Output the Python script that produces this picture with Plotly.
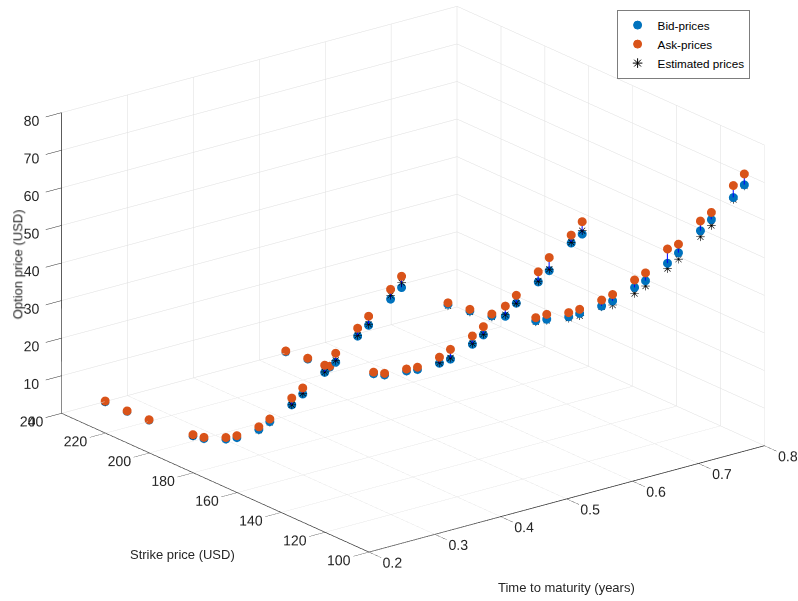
import math
import plotly.graph_objects as go

# Strike prices (USD), same grid for every maturity
strikes = [240, 230, 220, 200, 195, 185, 180, 170, 165, 155, 150, 140, 135, 125, 120, 110, 105]

# Times to maturity (years)
maturities = [0.266, 0.540, 0.786]

# Quotes and model estimates per maturity (USD)
ask_t1 = [0.2, 0.2, 0.5, 1.8, 2.4, 5.0, 6.8, 11.8, 15.2, 23.4, 27.4, 36.1, 40.6, 49.9, 54.4, 64.2, 69.0]
bid_t1 = [0.0, 0.1, 0.4, 1.5, 2.1, 4.6, 6.3, 11.1, 14.5, 21.6, 25.8, 34.2, 38.2, 47.8, 52.0, 61.6, 66.0]
est_t1 = [0.0, 0.1, 0.4, 1.5, 2.0, 4.5, 6.2, 10.9, 14.3, 21.6, 26.0, 34.3, 38.7, 48.0, 52.3, 62.6, 67.3]

ask_t2 = [0.6, 1.3, 1.8, 5.5, 6.5, 10.3, 12.1, 17.4, 20.8, 27.0, 30.8, 38.9, 43.1, 52.0, 57.1, 65.7, 70.6]
bid_t2 = [0.4, 1.1, 1.6, 5.1, 6.1, 9.8, 11.5, 15.8, 18.2, 24.8, 28.6, 36.2, 41.0, 49.3, 53.6, 63.6, 67.3]
est_t2 = [0.3, 1.0, 1.5, 5.0, 6.0, 9.7, 11.4, 15.9, 18.5, 25.0, 28.8, 36.6, 41.0, 49.5, 54.0, 63.8, 68.2]

ask_t3 = [1.8, 2.7, 4.1, 8.4, 10.6, 13.7, 15.9, 21.0, 23.8, 30.3, 33.5, 42.5, 45.1, 53.9, 57.5, 67.3, 71.7]
bid_t3 = [1.4, 2.3, 3.6, 7.6, 9.3, 12.6, 14.8, 19.4, 22.1, 28.3, 31.4, 38.7, 42.8, 51.3, 55.6, 64.1, 68.8]
est_t3 = [1.0, 2.0, 3.3, 7.3, 9.0, 12.2, 14.2, 19.2, 21.0, 26.7, 30.0, 37.3, 41.1, 49.7, 54.0, 63.6, 68.5]

x_ticks = [0.2, 0.3, 0.4, 0.5, 0.6, 0.7, 0.8]
y_ticks = [100, 120, 140, 160, 180, 200, 220, 240]
z_ticks = [0, 10, 20, 30, 40, 50, 60, 70, 80]

BID_COLOR = "#0072BD"
ASK_COLOR = "#D95319"
TEXT_COLOR = "#262626"
FONT = "Liberation Sans, Arial, sans-serif"

asks = [ask_t1, ask_t2, ask_t3]
bids = [bid_t1, bid_t2, bid_t3]
ests = [est_t1, est_t2, est_t3]

xs, ys, z_ask, z_bid, z_est = [], [], [], [], []
for t, a, b, e in zip(maturities, asks, bids, ests):
    for k, av, bv, ev in zip(strikes, a, b, e):
        xs.append(t)
        ys.append(k)
        z_ask.append(av)
        z_bid.append(bv)
        z_est.append(ev)

# bid-ask spread segments
lx, ly, lz = [], [], []
for t, k, bv, av in zip(xs, ys, z_bid, z_ask):
    lx += [t, t, None]
    ly += [k, k, None]
    lz += [bv, av, None]

fig = go.Figure()

fig.add_trace(go.Scatter3d(
    x=lx, y=ly, z=lz, mode="lines", connectgaps=False,
    line=dict(color="#0000FF", width=2), showlegend=False, hoverinfo="skip"))

fig.add_trace(go.Scatter3d(
    x=xs, y=ys, z=z_bid, mode="markers", name="Bid-prices",
    legendgroup="bid", showlegend=False,
    marker=dict(size=5.2, color=BID_COLOR, symbol="circle", line=dict(width=0))))

fig.add_trace(go.Scatter3d(
    x=xs, y=ys, z=z_ask, mode="markers", name="Ask-prices",
    legendgroup="ask", showlegend=False,
    marker=dict(size=5.2, color=ASK_COLOR, symbol="circle", line=dict(width=0))))

# estimated prices drawn as an asterisk glyph
fig.add_trace(go.Scatter3d(
    x=xs, y=ys, z=z_est, mode="text", text=["✳"] * len(xs),
    textposition="middle center",
    textfont=dict(family="DejaVu Sans", size=12, color="black"),
    name="Estimated prices", legendgroup="est", showlegend=False))

# legend entries
legend_items = [("Bid-prices", "bid", "circle", BID_COLOR, 8),
                ("Ask-prices", "ask", "circle", ASK_COLOR, 8),
                ("Estimated prices", "est", "asterisk-open", "black", 8)]
for name, grp, sym, col, sz in legend_items:
    fig.add_trace(go.Scatter(
        x=[0], y=[0], mode="markers", name=name, legendgroup=grp,
        marker=dict(symbol=sym, size=sz, color=col, line=dict(color=col, width=1)),
        xaxis="x", yaxis="y", hoverinfo="skip"))

# camera: azimuth ~ -37.7 deg, elevation ~ 20.4 deg (orthographic)
az = math.radians(37.66)
el = math.radians(20.39)
dist = 2.2
view_dir = (-math.sin(az) * math.cos(el), -math.cos(az) * math.cos(el), math.sin(el))

# orthographic scale: half the scene height per scene unit
fig_w, fig_h = 798, 601
px_per_unit = fig_h / 2.0
box_scale = 1.7935 * (0.927 * fig_h) / fig_h

# shift the look-at point so the box sits right of and above the figure centre
shift_right, shift_up = 14.0, 21.3
a = -shift_right / px_per_unit
b = -shift_up / px_per_unit
R = (math.cos(az), -math.sin(az), 0.0)
U = (math.sin(az) * math.sin(el), math.cos(az) * math.sin(el), math.cos(el))
c = [a * R[i] + b * U[i] for i in range(3)]
center = dict(x=c[0], y=c[1], z=c[2])
eye = dict(x=c[0] + dist * view_dir[0],
           y=c[1] + dist * view_dir[1],
           z=c[2] + dist * view_dir[2])

axis_common = dict(
    showbackground=False, showgrid=True, gridcolor="#dedede", gridwidth=1,
    zeroline=False, showline=True, linecolor=TEXT_COLOR, linewidth=1.5,
    ticks="outside", tickcolor=TEXT_COLOR, tickangle=0,
    tickfont=dict(family=FONT, size=13, color=TEXT_COLOR),
    showspikes=False, title=dict(text=""))

fig.update_layout(
    width=fig_w, height=fig_h,
    margin=dict(l=0, r=0, t=0, b=0),
    paper_bgcolor="white", plot_bgcolor="rgba(0,0,0,0)",
    font=dict(family=FONT, color=TEXT_COLOR),
    hovermode=False,
    xaxis=dict(visible=False, range=[1, 2], domain=[0, 0.01]),
    yaxis=dict(visible=False, range=[1, 2], domain=[0, 0.01]),
    scene=dict(
        domain=dict(x=[0.0, 1.0], y=[0.0, 1.0]),
        xaxis=dict(axis_common, range=[0.2, 0.8], tickvals=x_ticks, ticklen=20,
                   ticktext=[f"{v:g}" for v in x_ticks]),
        yaxis=dict(axis_common, range=[100, 240], tickvals=y_ticks, ticklen=20),
        zaxis=dict(axis_common, range=[0, 80], tickvals=z_ticks, ticklen=8),
        aspectmode="manual",
        aspectratio=dict(x=1.0 * box_scale, y=1.007 * box_scale, z=0.642 * box_scale),
        camera=dict(eye=eye, center=center, up=dict(x=0, y=0, z=1),
                    projection=dict(type="orthographic")),
    ),
    legend=dict(x=617 / 798, y=1 - 10 / 601, xanchor="left", yanchor="top",
                bgcolor="white", bordercolor=TEXT_COLOR, borderwidth=0.6,
                font=dict(family=FONT, size=11.7, color="black"),
                itemwidth=30, tracegroupgap=0),
    annotations=[
        dict(text="Option price (USD)", x=17.3 / 798, y=1 - 264 / 601, xref="paper", yref="paper",
             showarrow=False, textangle=-90, font=dict(size=13, color=TEXT_COLOR),
             xanchor="center", yanchor="middle"),
        dict(text="Strike price (USD)", x=182.3 / 798, y=1 - 554 / 601, xref="paper", yref="paper",
             showarrow=False, font=dict(size=13, color=TEXT_COLOR),
             xanchor="center", yanchor="middle"),
        dict(text="Time to maturity (years)", x=566 / 798, y=1 - 587.3 / 601, xref="paper", yref="paper",
             showarrow=False, font=dict(size=13, color=TEXT_COLOR),
             xanchor="center", yanchor="middle"),
    ],
)

fig.write_html("out.html")
